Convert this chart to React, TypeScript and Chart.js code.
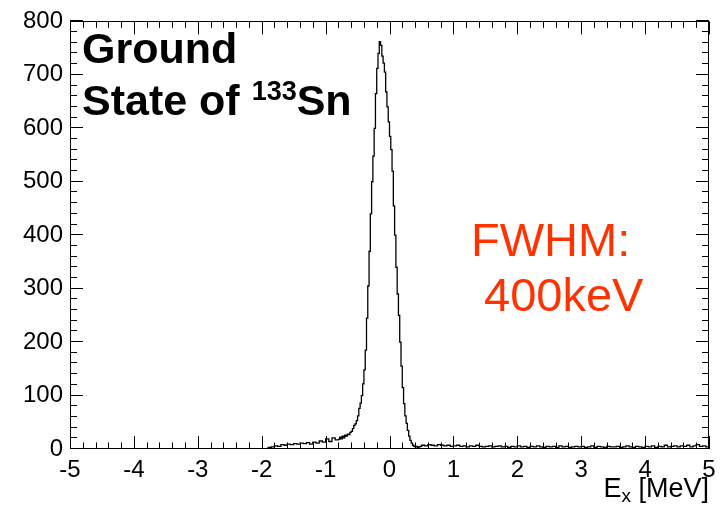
import React, { useEffect, useRef } from 'react';
import { Chart, registerables } from 'chart.js';

Chart.register(...registerables);

// ---- Axis ticks ----
const X_TICKS = [-5, -4, -3, -2, -1, 0, 1, 2, 3, 4, 5];
const Y_TICKS = [0, 100, 200, 300, 400, 500, 600, 700, 800];
const X_MIN = -5;
const X_MAX = 5;
const Y_MIN = 0;
const Y_MAX = 800;

// ---- Histogram data (counts per bin) ----
// Left tail: bins of 0.05 MeV starting at -1.9 MeV
const LEFT_TAIL_START = -1.9;
const LEFT_TAIL_WIDTH = 0.05;
const leftTailCounts = [3, 4, 6, 5, 8, 7, 9, 8, 10, 9, 11, 10, 12, 9, 13, 11, 15, 13, 19, 14, 21, 17];

// Peak region: bins of 0.02 MeV starting at -0.8 MeV
const CORE_START = -0.8;
const CORE_WIDTH = 0.02;
const coreCounts = [
  18, 22, 19, 24, 21, 26, 24, 28, 27, 31,
  33, 38, 44, 47, 53, 62, 76, 86, 100, 122,
  148, 185, 245, 305, 370, 440, 500, 548, 600, 665,
  712, 740, 762, 755, 735, 722, 705, 668, 640, 612,
  585, 560, 520, 455, 400, 340, 290, 250, 200, 155,
  115, 85, 62, 48, 35, 24, 16, 11, 7, 5,
  4, 5, 3, 4, 5,
];

// Right tail: bins of 0.05 MeV starting at 0.5 MeV
const RIGHT_TAIL_START = 0.5;
const RIGHT_TAIL_WIDTH = 0.05;
const rightTailCounts = [
  7, 6, 8, 7, 6, 8, 7, 6, 7, 5,
  6, 7, 5, 6, 4, 6, 5, 7, 5, 4,
  5, 6, 4, 5, 6, 4, 5, 3, 5, 4,
  6, 4, 5, 3, 5, 4, 6, 4, 3, 5,
  4, 5, 3, 6, 4, 5, 3, 4, 5, 4,
  5, 3, 4, 6, 3, 5, 4, 3, 5, 4,
  4, 5, 3, 4, 6, 4, 3, 5, 4, 3,
  5, 4, 6, 3, 5, 4, 7, 4, 5, 6,
  4, 6, 5, 7, 4, 6, 8, 5, 6, 4,
];

// ---- Labels ----
const X_TITLE_MAIN = 'E';
const X_TITLE_SUB = 'x';
const X_TITLE_REST = ' [MeV]';
const LABEL_LINE1 = 'Ground';
const LABEL_LINE2 = 'State of ';
const LABEL_SUP = '133';
const LABEL_ELEM = 'Sn';
const FWHM_LINE1 = 'FWHM:';
const FWHM_LINE2 = ' 400keV';

const FONT = '"Liberation Sans", Arial, Helvetica, sans-serif';
const RED = '#ff3300';

function buildPoints() {
  const pts: { x: number; y: number }[] = [{ x: X_MIN, y: 0 }];
  const add = (start: number, width: number, counts: number[]) => {
    counts.forEach((c, i) => {
      pts.push({ x: +(start + i * width).toFixed(4), y: c });
    });
  };
  add(LEFT_TAIL_START, LEFT_TAIL_WIDTH, leftTailCounts);
  add(CORE_START, CORE_WIDTH, coreCounts);
  add(RIGHT_TAIL_START, RIGHT_TAIL_WIDTH, rightTailCounts);
  pts.push({ x: X_MAX, y: rightTailCounts[rightTailCounts.length - 1] });
  return pts;
}

const rootFramePlugin = {
  id: 'rootFrame',
  afterDraw(chart: any) {
    const ctx: CanvasRenderingContext2D = chart.ctx;
    const { left, right, top, bottom } = chart.chartArea;
    const xs = chart.scales.x;
    const ys = chart.scales.y;
    ctx.save();
    ctx.strokeStyle = '#000';
    ctx.lineWidth = 1;
    // frame
    ctx.strokeRect(Math.round(left) + 0.5, Math.round(top) + 0.5, Math.round(right - left) - 1, Math.round(bottom - top) - 1);

    ctx.beginPath();
    // x ticks (major every 1, minor every 0.2)
    for (let i = 0; i <= 50; i++) {
      const v = X_MIN + i * 0.2;
      const px = Math.round(xs.getPixelForValue(v)) + 0.5;
      const len = i % 5 === 0 ? 13 : 6.5;
      ctx.moveTo(px, bottom);
      ctx.lineTo(px, bottom - len);
      ctx.moveTo(px, top);
      ctx.lineTo(px, top + len);
    }
    // y ticks (major every 100, minor every 20)
    for (let i = 0; i <= 40; i++) {
      const v = Y_MIN + i * 20;
      const py = Math.round(ys.getPixelForValue(v)) - 0.5;
      const len = i % 5 === 0 ? 13 : 7;
      ctx.moveTo(left, py);
      ctx.lineTo(left + len, py);
      ctx.moveTo(right, py);
      ctx.lineTo(right - len, py);
    }
    ctx.stroke();

    // axis title  E_x [MeV]
    ctx.fillStyle = '#000';
    ctx.textBaseline = 'alphabetic';
    ctx.textAlign = 'left';
    const titleFont = `27px ${FONT}`;
    const subFont = `19px ${FONT}`;
    ctx.font = titleFont;
    const wMain = ctx.measureText(X_TITLE_MAIN).width;
    const wRest = ctx.measureText(X_TITLE_REST).width;
    ctx.font = subFont;
    const wSub = ctx.measureText(X_TITLE_SUB).width;
    const total = wMain + wSub + wRest;
    let tx = right - total;
    const tb = 497;
    ctx.font = titleFont;
    ctx.fillText(X_TITLE_MAIN, tx, tb);
    tx += wMain;
    ctx.font = subFont;
    ctx.fillText(X_TITLE_SUB, tx, tb + 5);
    tx += wSub;
    ctx.font = titleFont;
    ctx.fillText(X_TITLE_REST, tx, tb);

    // Top-left label
    const bigFont = `bold 43px ${FONT}`;
    const supFont = `bold 27px ${FONT}`;
    ctx.font = bigFont;
    ctx.fillText(LABEL_LINE1, 82, 63);
    ctx.fillText(LABEL_LINE2, 82, 115);
    let lx = 82 + ctx.measureText(LABEL_LINE2).width;
    ctx.font = supFont;
    ctx.fillText(LABEL_SUP, lx, 100);
    lx += ctx.measureText(LABEL_SUP).width;
    ctx.font = bigFont;
    ctx.fillText(LABEL_ELEM, lx, 115);

    // FWHM label
    ctx.fillStyle = RED;
    ctx.font = `47px ${FONT}`;
    ctx.fillText(FWHM_LINE1, 471, 256);
    ctx.fillText(FWHM_LINE2, 471, 311);
    ctx.restore();
  },
};

export default function App() {
  const ref = useRef<HTMLCanvasElement | null>(null);
  useEffect(() => {
    document.body.style.margin = '0';
    const canvas = ref.current;
    if (!canvas) return;
    const chart = new Chart(canvas, {
      type: 'line',
      data: {
        datasets: [
          {
            data: buildPoints(),
            borderColor: '#000',
            borderWidth: 1.3,
            pointRadius: 0,
            stepped: true,
            tension: 0,
            fill: false,
          },
        ],
      },
      options: {
        animation: false,
        responsive: false,
        events: [],
        layout: { padding: { top: 18, right: 17, left: 0, bottom: 0 } },
        plugins: {
          legend: { display: false },
          tooltip: { enabled: false },
          title: { display: false },
        },
        scales: {
          x: {
            type: 'linear',
            min: X_MIN,
            max: X_MAX,
            afterBuildTicks: (scale: any) => {
              scale.ticks = X_TICKS.map((v) => ({ value: v }));
            },
            afterFit: (scale: any) => {
              scale.height = 56;
            },
            grid: { display: false, drawTicks: false },
            border: { display: false },
            ticks: {
              autoSkip: false,
              maxRotation: 0,
              padding: 7,
              color: '#000',
              font: { family: FONT, size: 24 },
              callback: (v: any) => String(v),
            },
          },
          y: {
            type: 'linear',
            min: Y_MIN,
            max: Y_MAX,
            afterBuildTicks: (scale: any) => {
              scale.ticks = Y_TICKS.map((v) => ({ value: v }));
            },
            afterFit: (scale: any) => {
              scale.width = 70;
            },
            grid: { display: false, drawTicks: false },
            border: { display: false },
            ticks: {
              autoSkip: false,
              padding: 7,
              color: '#000',
              font: { family: FONT, size: 24 },
              callback: (v: any) => String(v),
            },
          },
        },
      },
      plugins: [rootFramePlugin],
    });
    return () => chart.destroy();
  }, []);
  return (
    <div style={{ position: 'absolute', left: 0, top: 0, width: 726, height: 505, background: '#fff' }}>
      <canvas ref={ref} width={726} height={505} />
    </div>
  );
}
